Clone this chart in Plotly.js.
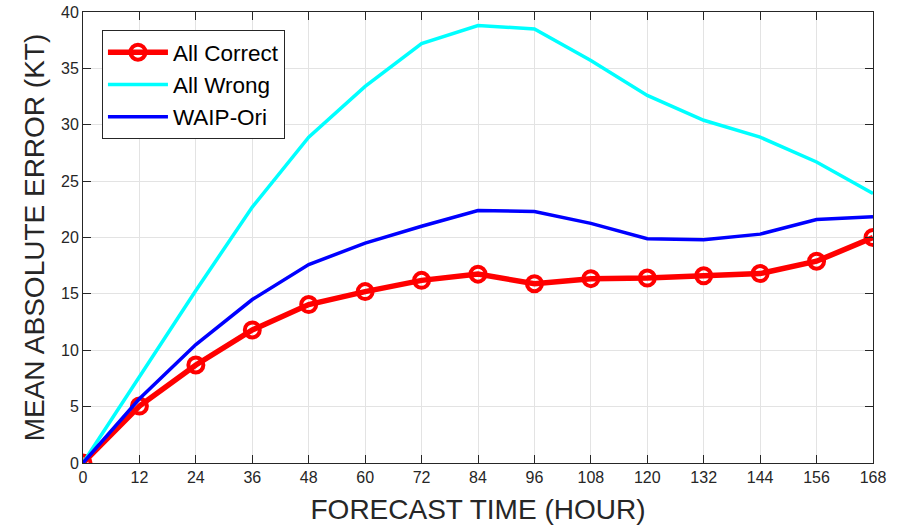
<!DOCTYPE html>
<html>
<head>
<meta charset="utf-8">
<script src="https://cdn.plot.ly/plotly-3.0.1.min.js"></script>
<style>body{margin:0;padding:0;background:#fff;}#chart{width:897px;height:529px;}</style>
</head>
<body>
<div id="chart"></div>
<script>
const hours = [0, 12, 24, 36, 48, 60, 72, 84, 96, 108, 120, 132, 144, 156, 168];
const allCorrect = [0, 5.05, 8.7, 11.8, 14.05, 15.2, 16.2, 16.75, 15.9, 16.35, 16.4, 16.6, 16.8, 17.9, 20.0];
const allWrong = [0, 7.6, 15.3, 22.7, 28.9, 33.4, 37.2, 38.8, 38.5, 35.7, 32.6, 30.4, 28.9, 26.7, 23.9];
const waipOri = [0, 5.7, 10.5, 14.5, 17.6, 19.5, 21.0, 22.4, 22.3, 21.25, 19.9, 19.8, 20.3, 21.6, 21.85];
const xTickLabels = ['0','12','24','36','48','60','72','84','96','108','120','132','144','156','168'];

const traces = [
  {x: hours, y: allCorrect, name: 'All Correct', mode: 'lines+markers', type: 'scatter',
   line: {color: '#ff0000', width: 5.5},
   marker: {symbol: 'circle-open', size: 15, color: '#ff0000', line: {width: 4, color: '#ff0000'}}},
  {x: hours, y: allWrong, name: 'All Wrong', mode: 'lines', type: 'scatter',
   line: {color: '#00ffff', width: 3.5}},
  {x: hours, y: waipOri, name: 'WAIP-Ori', mode: 'lines', type: 'scatter',
   line: {color: '#0000ff', width: 3.5}}
];

const axisCommon = {
  showline: true, linecolor: '#262626', linewidth: 1, mirror: 'ticks',
  ticks: 'inside', ticklen: 8, tickcolor: '#262626',
  showgrid: true, gridcolor: '#e3e3e3', gridwidth: 1, zeroline: false,
  tickfont: {family: 'Liberation Sans, Arial, sans-serif', size: 16, color: '#262626'}
};

const layout = {
  width: 897, height: 529,
  margin: {l: 83, r: 24, t: 12, b: 66},
  paper_bgcolor: '#ffffff', plot_bgcolor: '#ffffff',
  showlegend: true,
  legend: {x: 0.024, y: 0.96, xanchor: 'left', yanchor: 'top',
    bgcolor: '#ffffff', bordercolor: '#262626', borderwidth: 1,
    itemwidth: 60,
    font: {family: 'Liberation Sans, Arial, sans-serif', size: 22.5, color: '#000000'},
    tracegroupgap: 0},
  xaxis: Object.assign({}, axisCommon, {
    range: [0, 168], tickmode: 'array', tickvals: hours, ticktext: xTickLabels,
    title: {text: 'FORECAST TIME (HOUR)', standoff: 14,
      font: {family: 'Liberation Sans, Arial, sans-serif', size: 28, color: '#262626'}}
  }),
  yaxis: Object.assign({}, axisCommon, {
    range: [0, 40], dtick: 5, tick0: 0,
    title: {text: 'MEAN ABSOLUTE ERROR (KT)', standoff: 8,
      font: {family: 'Liberation Sans, Arial, sans-serif', size: 28, color: '#262626'}}
  })
};

Plotly.newPlot('chart', traces, layout, {displayModeBar: false, staticPlot: true});
</script>
</body>
</html>
